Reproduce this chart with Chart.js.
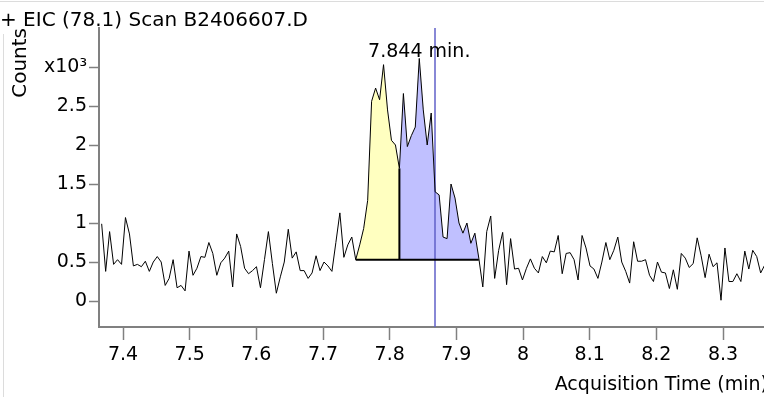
<!DOCTYPE html>
<html><head><meta charset="utf-8">
<script src="https://cdn.jsdelivr.net/npm/chart.js@4.4.1/dist/chart.umd.min.js"></script>
<style>html,body{margin:0;padding:0;overflow:hidden;background:#fff;width:764px;height:397px}canvas{display:block}</style>
</head><body>
<canvas id="c" width="768" height="397"></canvas>
<script>
const titleText = '+ EIC (78.1) Scan B2406607.D';
const xAxisTitle = 'Acquisition Time (min)';
const yAxisTitle = 'Counts';

// scan times (min)
const scanTimes = [
7.3680,7.3740,7.3799,7.3859,7.3918,7.3978,7.4037,7.4097,7.4156,7.4216,
7.4276,7.4335,7.4395,7.4454,7.4514,7.4573,7.4633,7.4692,7.4752,7.4811,
7.4871,7.4931,7.4990,7.5050,7.5109,7.5169,7.5228,7.5288,7.5347,7.5407,
7.5467,7.5526,7.5586,7.5645,7.5705,7.5764,7.5824,7.5883,7.5943,7.6002,
7.6062,7.6122,7.6181,7.6241,7.6300,7.6360,7.6419,7.6479,7.6538,7.6598,
7.6658,7.6717,7.6777,7.6836,7.6896,7.6955,7.7015,7.7074,7.7134,7.7193,
7.7253,7.7313,7.7372,7.7432,7.7491,7.7551,7.7610,7.7670,7.7729,7.7789,
7.7849,7.7908,7.7968,7.8027,7.8087,7.8146,7.8206,7.8265,7.8325,7.8384,
7.8444,7.8504,7.8563,7.8623,7.8682,7.8742,7.8801,7.8861,7.8920,7.8980,
7.9040,7.9099,7.9159,7.9218,7.9278,7.9337,7.9397,7.9456,7.9516,7.9575,
7.9635,7.9695,7.9754,7.9814,7.9873,7.9933,7.9992,8.0052,8.0111,8.0171,
8.0231,8.0290,8.0350,8.0409,8.0469,8.0528,8.0588,8.0647,8.0707,8.0766,
8.0826,8.0886,8.0945,8.1005,8.1064,8.1124,8.1183,8.1243,8.1302,8.1362,
8.1422,8.1481,8.1541,8.1600,8.1660,8.1719,8.1779,8.1838,8.1898,8.1957,
8.2017,8.2077,8.2136,8.2196,8.2255,8.2315,8.2374,8.2434,8.2493,8.2553,
8.2613,8.2672,8.2732,8.2791,8.2851,8.2910,8.2970,8.3029,8.3089,8.3148,
8.3208,8.3268,8.3327,8.3387,8.3446,8.3506,8.3565,8.3625
];

// counts (x10^3)
const counts = [
0.99,0.38,0.89,0.47,0.53,0.47,1.07,0.86,0.45,0.47,
0.44,0.51,0.38,0.50,0.57,0.50,0.20,0.29,0.53,0.17,
0.20,0.13,0.64,0.33,0.42,0.57,0.56,0.75,0.61,0.33,
0.49,0.55,0.64,0.18,0.86,0.70,0.42,0.35,0.39,0.44,
0.17,0.53,0.89,0.48,0.10,0.31,0.50,0.92,0.55,0.63,
0.39,0.39,0.29,0.36,0.58,0.39,0.50,0.45,0.38,0.75,
1.13,0.56,0.72,0.82,0.53,0.72,0.93,1.29,2.56,2.73,
2.58,3.03,2.45,2.06,2.00,1.70,2.66,1.98,2.12,2.23,
3.11,2.45,2.00,2.41,1.40,1.36,0.82,0.80,1.50,1.32,
1.00,0.87,1.00,0.74,0.87,0.55,0.18,0.89,1.09,0.29,
0.65,0.88,0.21,0.80,0.41,0.42,0.27,0.42,0.54,0.42,
0.36,0.57,0.49,0.64,0.63,0.84,0.35,0.61,0.62,0.53,
0.27,0.84,0.68,0.45,0.41,0.29,0.50,0.75,0.53,0.65,
0.82,0.50,0.38,0.23,0.76,0.51,0.51,0.53,0.33,0.25,
0.50,0.37,0.36,0.16,0.40,0.15,0.61,0.55,0.43,0.48,
0.81,0.58,0.30,0.60,0.44,0.49,0.01,0.68,0.25,0.25,
0.35,0.25,0.64,0.41,0.65,0.57,0.36,0.46
];

const xTickValues = [7.4,7.5,7.6,7.7,7.8,7.9,8.0,8.1,8.2,8.3];
const xTickLabels = ['7.4','7.5','7.6','7.7','7.8','7.9','8','8.1','8.2','8.3'];
const yTickValues = [0,0.5,1,1.5,2,2.5,3];
const yTickLabels = ['0','0.5','1','1.5','2','2.5','x10\u00B3'];

const peak1Range = [7.7491, 7.8146];
const peak2Range = [7.8146, 7.9337];
const peakBaseline = 0.53;
const apexTime = 7.8444;
const apexLabel = '7.844 min.';
const markerTime = 7.868;

const xMin = 7.364, xMax = 8.3675;
const yMin = -0.333, yMax = 3.5;

const trace = scanTimes.map((t, i) => ({x: t, y: counts[i]}));
const inRange = (r) => trace.filter(p => p.x >= r[0] - 1e-6 && p.x <= r[1] + 1e-6);
const peak1 = inRange(peak1Range);
const peak2 = inRange(peak2Range);
const splitTop = peak2[0].y;
const apexPoint = trace.reduce((a, b) => (b.y > a.y ? b : a));

Chart.defaults.font.family = 'DejaVu Sans';
Chart.defaults.font.size = 19;
Chart.defaults.color = '#000';

const frameAndLabel = {
  id: 'frameAndLabel',
  afterDatasetsDraw(chart) {
    const {ctx, scales: {x, y}} = chart;
    ctx.save();
    ctx.font = '19px "DejaVu Sans"';
    ctx.fillStyle = '#000';
    ctx.textAlign = 'center';
    ctx.textBaseline = 'middle';
    ctx.fillText(apexLabel, x.getPixelForValue(apexTime), y.getPixelForValue(apexPoint.y) - 6);
    ctx.restore();
  },
  beforeDraw(chart) {
    const {ctx} = chart;
    ctx.save();
    ctx.strokeStyle = '#dcdcdc';
    ctx.lineWidth = 1;
    ctx.beginPath();
    ctx.moveTo(0, 1.5); ctx.lineTo(chart.width, 1.5);
    ctx.moveTo(3.5, 34); ctx.lineTo(3.5, chart.height);
    ctx.stroke();
    ctx.restore();
  }
};

new Chart(document.getElementById('c'), {
  type: 'line',
  data: {
    datasets: [
      {data: trace, borderColor: '#000', borderWidth: 1, pointRadius: 0, tension: 0, fill: false, order: 1},
      {data: [{x: peak1Range[0], y: peakBaseline}, {x: peak2Range[1], y: peakBaseline}], borderColor: '#000', borderWidth: 2, pointRadius: 0, fill: false, order: 2},
      {data: [{x: peak2Range[0], y: peakBaseline}, {x: peak2Range[0], y: splitTop}], borderColor: '#000', borderWidth: 2, pointRadius: 0, fill: false, order: 3},
      {data: [{x: markerTime, y: yMin}, {x: markerTime, y: yMax}], borderColor: 'rgb(96,96,200)', borderWidth: 1.5, pointRadius: 0, fill: false, order: 4},
      {data: peak1, borderWidth: 0, borderColor: 'rgba(0,0,0,0)', backgroundColor: 'rgb(255,255,192)', pointRadius: 0, fill: {value: peakBaseline}, order: 5},
      {data: peak2, borderWidth: 0, borderColor: 'rgba(0,0,0,0)', backgroundColor: 'rgb(192,192,255)', pointRadius: 0, fill: {value: peakBaseline}, order: 5}
    ]
  },
  options: {
    responsive: false,
    animation: false,
    events: [],
    layout: {padding: 0},
    plugins: {
      legend: {display: false},
      tooltip: {enabled: false},
      title: {display: true, text: titleText, align: 'start', color: '#000',
        font: {family: 'DejaVu Sans', size: 20, weight: 'normal', lineHeight: 1.2},
        padding: {top: 9, bottom: -5}}
    },
    scales: {
      x: {
        type: 'linear', min: xMin, max: xMax,
        afterBuildTicks: (s) => { s.ticks = xTickValues.map(v => ({value: v})); },
        afterFit: (s) => { s.height = 70; s.paddingLeft = 0; s.paddingRight = 0; },
        ticks: {autoSkip: false, maxRotation: 0, padding: 4, color: '#000',
          callback: (v) => { const i = xTickValues.findIndex(t => Math.abs(t - v) < 1e-6); return i >= 0 ? xTickLabels[i] : ''; }},
        grid: {drawOnChartArea: false, drawTicks: true, tickLength: 13, tickColor: '#808080', tickWidth: 1.5},
        border: {display: true, color: '#808080', width: 2},
        title: {display: true, text: xAxisTitle, align: 'end', color: '#000', padding: {top: 0, bottom: 1},
          font: {family: 'DejaVu Sans', size: 19, lineHeight: 1.2}}
      },
      y: {
        type: 'linear', min: yMin, max: yMax,
        afterBuildTicks: (s) => { s.ticks = yTickValues.map(v => ({value: v})); },
        afterFit: (s) => { s.width = 99; s.paddingTop = 0; s.paddingBottom = 0; },
        ticks: {padding: 2, color: '#000',
          callback: (v) => { const i = yTickValues.findIndex(t => Math.abs(t - v) < 1e-6); return i >= 0 ? yTickLabels[i] : ''; }},
        grid: {drawOnChartArea: false, drawTicks: true, tickLength: 10, tickColor: '#808080', tickWidth: 1.5},
        border: {display: true, color: '#808080', width: 2},
        title: {display: true, text: yAxisTitle, align: 'end', color: '#000', padding: {top: 9, bottom: 0},
          font: {family: 'DejaVu Sans', size: 20, lineHeight: 1.2}}
      }
    }
  },
  plugins: [frameAndLabel]
});
</script>
</body></html>
